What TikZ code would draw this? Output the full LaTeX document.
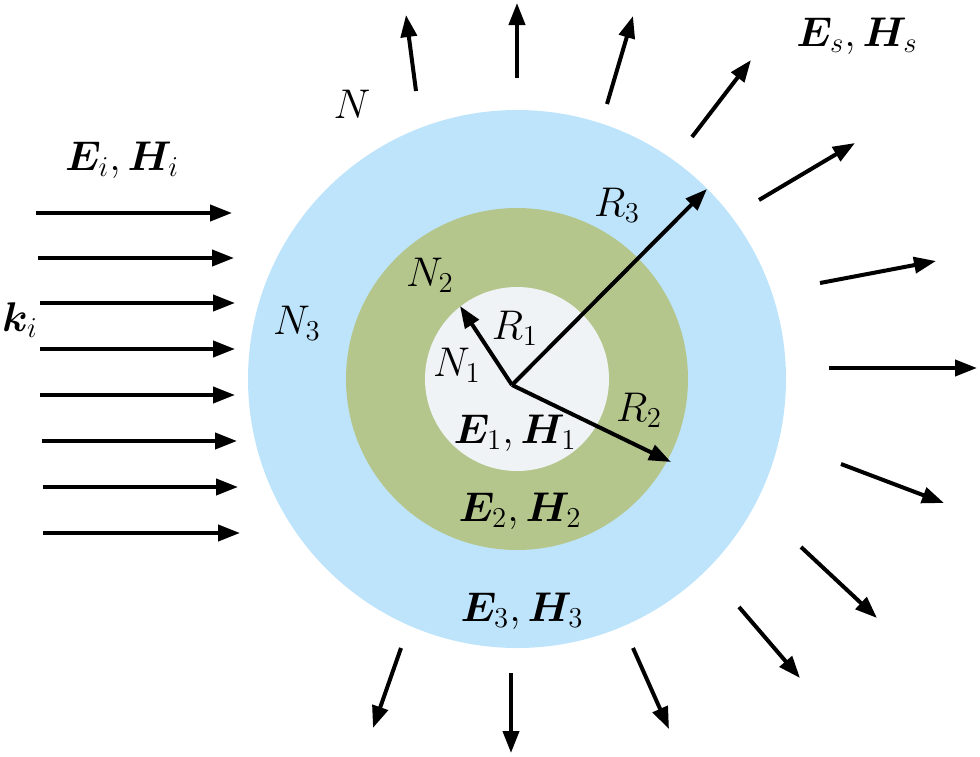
\documentclass[tikz,border=0pt]{standalone}
\usepackage{bm}
\usetikzlibrary{arrows.meta}
\definecolor{outerblue}{RGB}{190,228,251}
\definecolor{midgreen}{RGB}{181,198,141}
\definecolor{innergray}{RGB}{240,243,245}
\tikzset{
  ray/.style={line width=2pt,-{Triangle[length=11pt,width=8pt]}},
  lbl/.style={inner sep=0pt,font=\fontsize{20.5}{22}\selectfont}
}
\begin{document}
\begin{tikzpicture}[x=0.5pt,y=-0.5pt]
\useasboundingbox (0,0) rectangle (980,756);
% spheres
\coordinate (c) at (517,379);
\fill[outerblue] (c) circle[radius=134.5pt];
\fill[midgreen] (c) circle[radius=85.5pt];
\fill[innergray] (c) circle[radius=46pt];
% incident rays
\foreach \i/\y/\a/\b in {1/213/36/232,2/258/38/234,3/303/40/235,4/349/40/235,5/395/40/235,6/441/42/237,7/487/43/238,8/533/43/240}{
  \coordinate (in\i a) at (\a,\y);
  \coordinate (in\i b) at (\b,\y);
  \draw[ray] (in\i a) -- (in\i b);
}
% scattered rays
\foreach \i/\xa/\ya/\xb/\yb in {
  1/416/91/406/15,
  2/517/78/517/3,
  3/607/104/633/16,
  4/692/137/751/60,
  5/759/200/855/143,
  6/820/283/936/261,
  7/829/368/977/368,
  8/841/464/944/503,
  9/801/547/877/618,
  10/739/607/800/678,
  11/633/648/669/729,
  12/511/673/511/753,
  13/401/648/373/728}{
  \coordinate (s\i a) at (\xa,\ya);
  \coordinate (s\i b) at (\xb,\yb);
  \draw[ray] (s\i a) -- (s\i b);
}
% radii
\coordinate (o) at (512,385);
\coordinate (r1) at (460,306);
\coordinate (r2) at (671,462);
\coordinate (r3) at (707,189);
\draw[ray] (o) -- (r1);
\draw[ray] (o) -- (r2);
\draw[ray] (o) -- (r3);
% labels
\node[lbl] (ei) at (122,160) {$\bm{E}_i,\bm{H}_i$};
\node[lbl] (ki) at (20,320) {$\bm{k}_i$};
\node[lbl] (es) at (857,36) {$\bm{E}_s,\bm{H}_s$};
\node[lbl] (n) at (352,104) {$N$};
\node[lbl] (n3) at (297,323) {$N_3$};
\node[lbl] (n2) at (430,275) {$N_2$};
\node[lbl] (n1) at (457,365) {$N_1$};
\node[lbl] (rr1) at (515,328) {$R_1$};
\node[lbl] (rr2) at (639,410) {$R_2$};
\node[lbl] (rr3) at (617,205) {$R_3$};
\node[lbl] (e1) at (515,433) {$\bm{E}_1,\bm{H}_1$};
\node[lbl] (e2) at (520,511) {$\bm{E}_2,\bm{H}_2$};
\node[lbl] (e3) at (522,611) {$\bm{E}_3,\bm{H}_3$};
\end{tikzpicture}
\end{document}
